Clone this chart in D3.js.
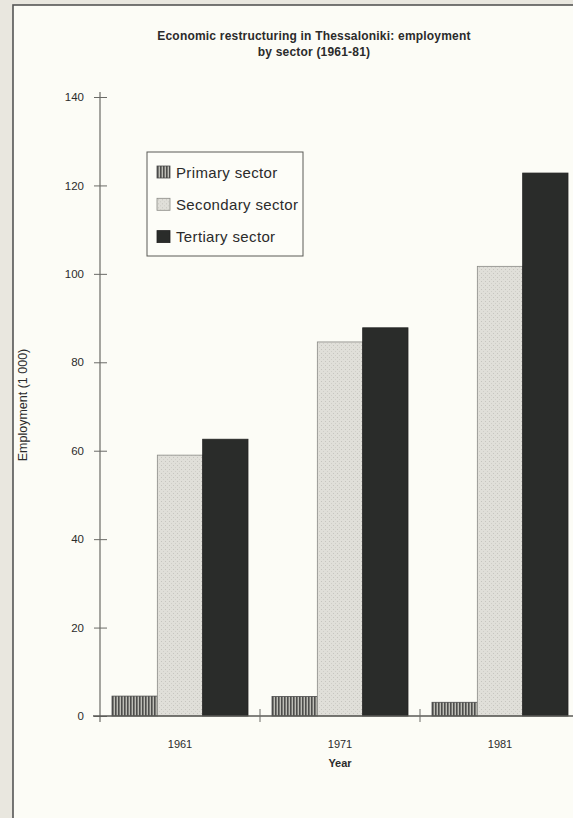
<!DOCTYPE html>
<html>
<head>
<meta charset="utf-8">
<script src="https://cdn.jsdelivr.net/npm/d3@7"></script>
<style>
  html, body { margin: 0; padding: 0; background: #e9e7df; }
  svg { display: block; font-family: "Liberation Sans", Arial, Helvetica, sans-serif; }
</style>
</head>
<body>
<svg id="chart" width="573" height="818"></svg>
<script>
// data
const years = ["1961", "1971", "1981"];
const sectors = ["Primary sector", "Secondary sector", "Tertiary sector"];
const primary = [4.5, 4.4, 3.1];
const secondary = [59.0, 84.6, 101.7];
const tertiary = [62.6, 87.8, 122.8];
const yTicks = [0, 20, 40, 60, 80, 100, 120, 140];

const series = [primary, secondary, tertiary];
const fills = ["url(#stripes)", "url(#dots)", "#2a2c2a"];
const strokes = ["#4a4a4a", "#8a8a86", "#222"];

const svg = d3.select("#chart");
const ink = "#2b2b2b";

// paper panel
svg.append("rect")
    .attr("x", 13).attr("y", 5)
    .attr("width", 600).attr("height", 830)
    .attr("fill", "#fcfcf6")
    .attr("stroke", "#555").attr("stroke-width", 1.6);

// patterns
let defs = svg.append("defs");
let st = defs.append("pattern")
    .attr("id", "stripes")
    .attr("patternUnits", "userSpaceOnUse")
    .attr("width", 3).attr("height", 10);
st.append("rect").attr("width", 3).attr("height", 10).attr("fill", "#bdbdb6");
st.append("rect").attr("width", 1.6).attr("height", 10).attr("fill", "#4e4e4c");

let dt = defs.append("pattern")
    .attr("id", "dots")
    .attr("patternUnits", "userSpaceOnUse")
    .attr("width", 4).attr("height", 4);
dt.append("rect").attr("width", 4).attr("height", 4).attr("fill", "#e0dfd9");
dt.append("rect").attr("x", 1).attr("y", 1).attr("width", 1).attr("height", 1).attr("fill", "#c6c5bf");
dt.append("rect").attr("x", 3).attr("y", 3).attr("width", 1).attr("height", 1).attr("fill", "#cfcec8");

// scales
let x = d3.scaleBand()
    .domain(years)
    .range([100, 580])
    .paddingInner(0.15)
    .paddingOuter(0.075);

let xs = d3.scaleBand()
    .domain(d3.range(sectors.length))
    .range([0, x.bandwidth()]);

let y = d3.scaleLinear()
    .domain([0, 140])
    .range([716, 97]);

// title
let title = svg.append("text")
    .attr("x", 314).attr("y", 40)
    .attr("text-anchor", "middle")
    .attr("font-size", "12px")
    .attr("font-weight", "bold")
    .attr("letter-spacing", "0.2px")
    .attr("fill", ink);
title.append("tspan").attr("x", 314).text("Economic restructuring in Thessaloniki: employment");
title.append("tspan").attr("x", 314).attr("dy", 16).text("by sector (1961-81)");

// bars
let groups = svg.selectAll("g.year")
    .data(years)
    .enter()
    .append("g")
    .attr("class", "year")
    .attr("transform", d => "translate(" + x(d) + ",0)");

groups.selectAll("rect")
    .data((d, i) => series.map((s, k) => ({k: k, v: s[i]})))
    .enter()
    .append("rect")
    .attr("x", d => xs(d.k))
    .attr("width", xs.bandwidth())
    .attr("y", d => y(d.v))
    .attr("height", d => y(0) - y(d.v))
    .attr("fill", d => fills[d.k])
    .attr("stroke", d => strokes[d.k])
    .attr("stroke-width", 0.8);

// y axis
let yAxis = d3.axisLeft(y)
    .tickValues(yTicks)
    .tickSize(0)
    .tickPadding(16);

let ya = svg.append("g")
    .attr("transform", "translate(100,0)")
    .call(yAxis);
ya.select(".domain").remove();
ya.selectAll("text")
    .attr("font-size", "11.5px")
    .attr("fill", ink)
    .attr("font-family", "'Liberation Sans', Arial, sans-serif");
ya.selectAll(".tick").append("line")
    .attr("x1", -6).attr("x2", 7)
    .attr("stroke", "#6a6a66").attr("stroke-width", 1);

svg.append("line")
    .attr("x1", 100).attr("x2", 100)
    .attr("y1", 92).attr("y2", 722)
    .attr("stroke", "#6a6a66").attr("stroke-width", 1.2);

// x axis
let xAxis = d3.axisBottom(x)
    .tickSize(0)
    .tickPadding(24);

let xa = svg.append("g")
    .attr("transform", "translate(0," + y(0) + ")")
    .call(xAxis);
xa.select(".domain").remove();
xa.selectAll("text")
    .attr("font-size", "11px")
    .attr("fill", ink)
    .attr("font-family", "'Liberation Sans', Arial, sans-serif");

svg.append("line")
    .attr("x1", 93).attr("x2", 580)
    .attr("y1", y(0)).attr("y2", y(0))
    .attr("stroke", "#5a5a56").attr("stroke-width", 1.3);

// boundary ticks between year groups
svg.selectAll("line.sep")
    .data(years.slice(1))
    .enter()
    .append("line")
    .attr("class", "sep")
    .attr("x1", d => x(d) - x.step() * x.paddingInner() / 2)
    .attr("x2", d => x(d) - x.step() * x.paddingInner() / 2)
    .attr("y1", y(0) - 7).attr("y2", y(0) + 6)
    .attr("stroke", "#6a6a66").attr("stroke-width", 1);

// axis titles
svg.append("text")
    .attr("x", 340).attr("y", 767)
    .attr("text-anchor", "middle")
    .attr("font-size", "11px")
    .attr("font-weight", "bold")
    .attr("fill", ink)
    .text("Year");

svg.append("text")
    .attr("transform", "translate(27,405) rotate(-90)")
    .attr("text-anchor", "middle")
    .attr("font-size", "12.5px")
    .attr("fill", ink)
    .text("Employment (1 000)");

// legend
let lg = svg.append("g").attr("transform", "translate(147,152)");
lg.append("rect")
    .attr("width", 156).attr("height", 104)
    .attr("fill", "#fdfdf8")
    .attr("stroke", "#5a5a56").attr("stroke-width", 1);

let item = lg.selectAll("g.item")
    .data(sectors)
    .enter()
    .append("g")
    .attr("class", "item")
    .attr("transform", (d, i) => "translate(10," + (14 + i * 32.3) + ")");

item.append("rect")
    .attr("width", 13).attr("height", 12)
    .attr("fill", (d, i) => fills[i])
    .attr("stroke", (d, i) => strokes[i])
    .attr("stroke-width", 0.8);

item.append("text")
    .attr("x", 19).attr("y", 11.5)
    .attr("font-size", "15px")
    .attr("letter-spacing", "0.35px")
    .attr("fill", ink)
    .text(d => d);
</script>
</body>
</html>
